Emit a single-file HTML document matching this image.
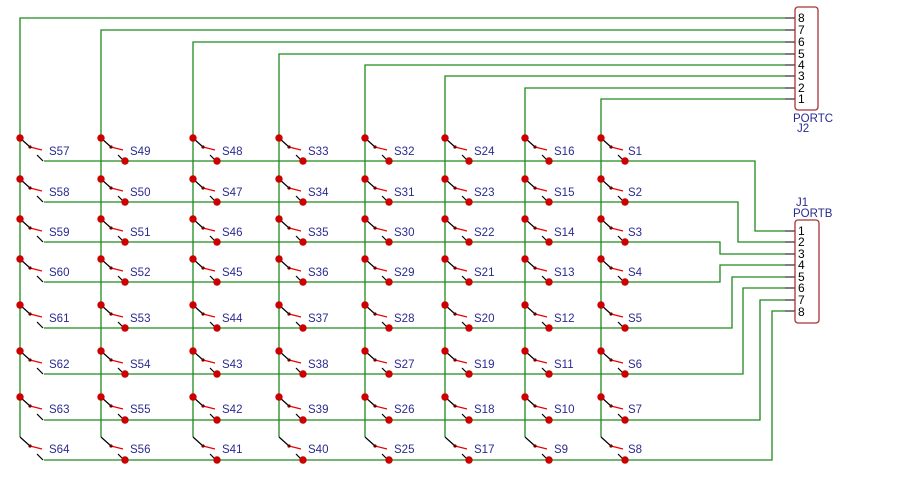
<!DOCTYPE html>
<html><head><meta charset="utf-8"><style>
html,body{margin:0;padding:0;background:#fff;width:917px;height:486px;overflow:hidden}
svg{display:block}
text{font-family:"Liberation Sans",Arial,sans-serif;fill:#2a2a90;font-size:11.5px}
.w{stroke:#1e8a1e;stroke-width:1.3;fill:none}
</style></head><body>
<svg width="917" height="486" viewBox="0 0 917 486">
<defs>
<g id="b"><line x1="0" y1="0" x2="10" y2="9" stroke="#000" stroke-width="1.2"/><line x1="10" y1="9" x2="22" y2="12" stroke="#e00" stroke-width="1.2"/><circle cx="10" cy="9" r="1.6" fill="#600"/><line x1="17" y1="17" x2="23" y2="23" stroke="#000" stroke-width="1.2"/></g>
<g id="s"><use href="#b"/><circle r="3.7" fill="#c00"/><circle cx="24" cy="23" r="3.7" fill="#c00"/></g>
<g id="s1"><use href="#b"/><circle r="3.7" fill="#c00"/></g>
<g id="s8"><use href="#b"/><circle cx="24" cy="23" r="3.7" fill="#c00"/></g>
</defs>
<path class="w" d="M20,437V18H785 M101,437V30H785 M193,437V42H785 M279,437V54H785 M365,437V65H785 M445,437V76H785 M525,437V88H785 M601,437V99H785"/>
<path class="w" d="M44,161H755V231H785 M44,202H738V242H785 M44,242H720V254H785 M44,282H720V265H785 M44,328H732V277H785 M44,374H743V288H785 M44,420H760V300H785 M44,460H772V311H785"/>
<path stroke="#333" stroke-width="1.3" d="M785,18H795M785,30H795M785,42H795M785,54H795M785,65H795M785,76H795M785,88H795M785,99H795 M785,231H795M785,242H795M785,254H795M785,265H795M785,277H795M785,288H795M785,300H795M785,311H795"/>
<rect x="795" y="7" width="23" height="103" rx="3" fill="#fff" stroke="#a33" stroke-width="1.3"/>
<rect x="795" y="220" width="24" height="103" rx="3" fill="#fff" stroke="#a33" stroke-width="1.3"/>
<g>
<text x="798" y="22" style="fill:#000;font-size:12px">8</text><text x="798" y="34" style="fill:#000;font-size:12px">7</text><text x="798" y="46" style="fill:#000;font-size:12px">6</text><text x="798" y="58" style="fill:#000;font-size:12px">5</text><text x="798" y="69" style="fill:#000;font-size:12px">4</text><text x="798" y="80" style="fill:#000;font-size:12px">3</text><text x="798" y="92" style="fill:#000;font-size:12px">2</text><text x="798" y="103" style="fill:#000;font-size:12px">1</text>
<text x="798" y="235" style="fill:#000;font-size:12px">1</text><text x="798" y="246" style="fill:#000;font-size:12px">2</text><text x="798" y="258" style="fill:#000;font-size:12px">3</text><text x="798" y="269" style="fill:#000;font-size:12px">4</text><text x="798" y="281" style="fill:#000;font-size:12px">5</text><text x="798" y="292" style="fill:#000;font-size:12px">6</text><text x="798" y="304" style="fill:#000;font-size:12px">7</text><text x="798" y="316" style="fill:#000;font-size:12px">8</text>
</g>
<text x="793" y="122">PORTC</text><text x="797" y="132">J2</text>
<text x="796" y="206">J1</text><text x="793" y="217">PORTB</text>
<g>
<use href="#s1" x="20" y="138"/><use href="#s" x="101" y="138"/><use href="#s" x="193" y="138"/><use href="#s" x="279" y="138"/><use href="#s" x="365" y="138"/><use href="#s" x="445" y="138"/><use href="#s" x="525" y="138"/><use href="#s" x="601" y="138"/>
<use href="#s1" x="20" y="179"/><use href="#s" x="101" y="179"/><use href="#s" x="193" y="179"/><use href="#s" x="279" y="179"/><use href="#s" x="365" y="179"/><use href="#s" x="445" y="179"/><use href="#s" x="525" y="179"/><use href="#s" x="601" y="179"/>
<use href="#s1" x="20" y="219"/><use href="#s" x="101" y="219"/><use href="#s" x="193" y="219"/><use href="#s" x="279" y="219"/><use href="#s" x="365" y="219"/><use href="#s" x="445" y="219"/><use href="#s" x="525" y="219"/><use href="#s" x="601" y="219"/>
<use href="#s1" x="20" y="259"/><use href="#s" x="101" y="259"/><use href="#s" x="193" y="259"/><use href="#s" x="279" y="259"/><use href="#s" x="365" y="259"/><use href="#s" x="445" y="259"/><use href="#s" x="525" y="259"/><use href="#s" x="601" y="259"/>
<use href="#s1" x="20" y="305"/><use href="#s" x="101" y="305"/><use href="#s" x="193" y="305"/><use href="#s" x="279" y="305"/><use href="#s" x="365" y="305"/><use href="#s" x="445" y="305"/><use href="#s" x="525" y="305"/><use href="#s" x="601" y="305"/>
<use href="#s1" x="20" y="351"/><use href="#s" x="101" y="351"/><use href="#s" x="193" y="351"/><use href="#s" x="279" y="351"/><use href="#s" x="365" y="351"/><use href="#s" x="445" y="351"/><use href="#s" x="525" y="351"/><use href="#s" x="601" y="351"/>
<use href="#s1" x="20" y="397"/><use href="#s" x="101" y="397"/><use href="#s" x="193" y="397"/><use href="#s" x="279" y="397"/><use href="#s" x="365" y="397"/><use href="#s" x="445" y="397"/><use href="#s" x="525" y="397"/><use href="#s" x="601" y="397"/>
<use href="#b" x="20" y="437"/><use href="#s8" x="101" y="437"/><use href="#s8" x="193" y="437"/><use href="#s8" x="279" y="437"/><use href="#s8" x="365" y="437"/><use href="#s8" x="445" y="437"/><use href="#s8" x="525" y="437"/><use href="#s8" x="601" y="437"/>
</g>
<g>
<text x="49" y="155">S57</text><text x="130" y="155">S49</text><text x="222" y="155">S48</text><text x="308" y="155">S33</text><text x="394" y="155">S32</text><text x="474" y="155">S24</text><text x="554" y="155">S16</text><text x="628" y="155">S1</text>
<text x="49" y="196">S58</text><text x="130" y="196">S50</text><text x="222" y="196">S47</text><text x="308" y="196">S34</text><text x="394" y="196">S31</text><text x="474" y="196">S23</text><text x="554" y="196">S15</text><text x="628" y="196">S2</text>
<text x="49" y="236">S59</text><text x="130" y="236">S51</text><text x="222" y="236">S46</text><text x="308" y="236">S35</text><text x="394" y="236">S30</text><text x="474" y="236">S22</text><text x="554" y="236">S14</text><text x="628" y="236">S3</text>
<text x="49" y="276">S60</text><text x="130" y="276">S52</text><text x="222" y="276">S45</text><text x="308" y="276">S36</text><text x="394" y="276">S29</text><text x="474" y="276">S21</text><text x="554" y="276">S13</text><text x="628" y="276">S4</text>
<text x="49" y="322">S61</text><text x="130" y="322">S53</text><text x="222" y="322">S44</text><text x="308" y="322">S37</text><text x="394" y="322">S28</text><text x="474" y="322">S20</text><text x="554" y="322">S12</text><text x="628" y="322">S5</text>
<text x="49" y="368">S62</text><text x="130" y="368">S54</text><text x="222" y="368">S43</text><text x="308" y="368">S38</text><text x="394" y="368">S27</text><text x="474" y="368">S19</text><text x="554" y="368">S11</text><text x="628" y="368">S6</text>
<text x="49" y="413">S63</text><text x="130" y="413">S55</text><text x="222" y="413">S42</text><text x="308" y="413">S39</text><text x="394" y="413">S26</text><text x="474" y="413">S18</text><text x="554" y="413">S10</text><text x="628" y="413">S7</text>
<text x="49" y="453">S64</text><text x="130" y="453">S56</text><text x="222" y="453">S41</text><text x="308" y="453">S40</text><text x="394" y="453">S25</text><text x="474" y="453">S17</text><text x="554" y="453">S9</text><text x="628" y="453">S8</text>
</g>
</svg>
</body></html>
